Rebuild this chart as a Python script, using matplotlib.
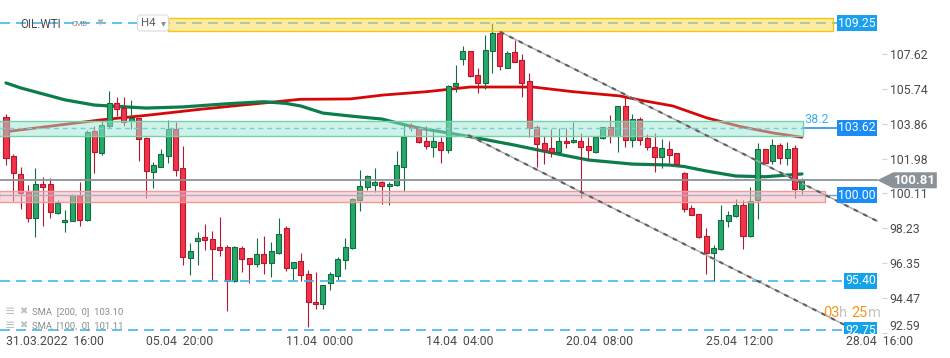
import numpy as np
import matplotlib
matplotlib.use("Agg")
import matplotlib.pyplot as plt
from matplotlib.patches import Rectangle, FancyBboxPatch, Polygon

plt.rcParams['font.family'] = ['Roboto', 'DejaVu Sans']

# OIL.WTI H4 candles, index 0 = 31.03.2022 16:00
opens = [104.22, 102.12, 101.15, 100.18, 98.77, 100.61, 100.61, 99.04, 98.55, 98.64,
         99.97, 98.66, 103.46, 102.30, 103.70, 104.96, 104.68, 103.97, 104.14, 103.09,
         101.27, 101.54, 102.13, 103.57, 101.45, 96.65, 97.57, 97.75, 97.64, 97.21,
         97.21, 95.41, 97.15, 96.62, 96.29, 96.83, 96.38, 96.92, 98.23, 96.08,
         96.47, 95.76, 94.26, 94.15, 95.28, 95.69, 96.51, 97.15, 99.74, 100.44,
         100.55, 100.71, 100.49, 100.55, 101.54, 103.75, 103.61, 102.93, 102.59, 102.87,
         102.44, 105.87, 107.32, 107.75, 106.46, 106.03, 107.73, 108.72, 106.84, 107.69,
         107.27, 106.13, 103.66, 102.80, 102.54, 102.33, 102.91, 102.85, 102.91, 102.65,
         102.32, 103.07, 103.66, 103.17, 104.79, 102.96, 104.09, 103.07, 102.62, 102.04,
         102.51, 102.26, 101.22, 99.31, 98.99, 97.81, 96.89, 97.10, 98.61, 98.88,
         99.47, 97.81, 99.74, 102.48, 101.84, 102.70, 101.99, 102.54, 100.33]
highs = [104.37, 102.23, 101.54, 100.55, 101.47, 101.01, 100.93, 99.76, 99.22, 100.07,
         100.73, 103.52, 103.74, 103.97, 105.63, 105.31, 105.31, 105.13, 104.15, 103.14,
         101.81, 102.48, 104.06, 103.95, 102.66, 97.44, 98.04, 98.47, 98.09, 98.84,
         97.33, 97.27, 97.26, 96.64, 97.70, 97.82, 97.48, 98.77, 98.35, 96.41,
         96.89, 96.00, 95.87, 95.20, 95.87, 96.69, 97.70, 99.84, 101.34, 101.10,
         101.45, 100.78, 100.71, 102.37, 103.88, 103.88, 103.70, 103.70, 103.52, 103.12,
         105.95, 107.02, 108.02, 107.77, 106.86, 108.64, 109.25, 108.79, 107.75, 108.35,
         107.58, 106.56, 103.79, 103.19, 103.55, 103.61, 103.61, 103.95, 103.34, 103.15,
         103.15, 103.68, 104.32, 104.80, 105.33, 104.35, 104.20, 103.29, 103.36, 103.02,
         102.91, 102.28, 101.24, 99.49, 99.00, 98.24, 97.33, 99.47, 99.14, 99.80,
         99.76, 100.44, 102.81, 102.50, 103.02, 102.82, 102.85, 102.71, 100.95]
lows = [101.63, 99.71, 99.25, 98.59, 97.78, 98.37, 98.81, 98.99, 98.05, 98.60,
        98.37, 98.62, 101.18, 102.17, 103.63, 104.28, 103.70, 103.57, 101.87, 99.88,
        100.41, 101.50, 101.76, 101.06, 96.26, 95.72, 96.26, 97.06, 95.41, 96.74,
        93.79, 95.36, 95.90, 95.31, 96.17, 95.78, 95.63, 96.85, 95.96, 95.45,
        95.41, 92.95, 93.92, 93.92, 94.91, 95.47, 96.07, 97.13, 99.18, 100.27,
        100.16, 99.55, 99.50, 100.52, 100.25, 103.48, 102.83, 102.48, 102.08, 101.73,
        102.30, 105.53, 107.02, 106.37, 105.49, 105.73, 106.56, 106.75, 106.82, 107.16,
        105.31, 103.12, 101.54, 101.71, 102.04, 102.29, 102.54, 102.83, 99.88, 101.89,
        102.29, 103.02, 102.80, 102.32, 102.59, 102.59, 102.70, 102.44, 101.27, 101.47,
        101.76, 101.65, 99.13, 98.92, 97.71, 95.78, 95.40, 97.08, 98.28, 98.86,
        97.10, 97.78, 98.72, 101.71, 101.67, 101.67, 101.62, 99.84, 100.06]
closes = [102.02, 101.18, 100.11, 98.77, 100.61, 100.47, 99.09, 99.58, 98.68, 100.00,
          98.66, 103.41, 102.32, 103.79, 104.96, 104.63, 103.92, 104.15, 103.02, 101.32,
          101.63, 102.23, 103.57, 101.37, 96.70, 97.02, 97.70, 97.62, 97.13, 97.08,
          95.41, 97.21, 96.56, 96.29, 96.83, 96.38, 97.00, 97.92, 96.08, 96.40,
          95.71, 94.26, 94.15, 95.18, 95.76, 96.56, 97.21, 99.82, 100.49, 101.03,
          100.71, 100.49, 100.62, 101.62, 103.16, 103.61, 102.87, 102.65, 102.93, 102.41,
          105.89, 106.06, 107.75, 106.40, 106.03, 107.80, 108.72, 106.95, 107.65, 107.19,
          106.06, 103.61, 102.75, 102.43, 102.35, 102.91, 102.80, 102.96, 102.59, 102.43,
          103.12, 103.66, 103.17, 104.79, 102.96, 104.09, 102.96, 102.61, 102.04, 102.53,
          102.15, 101.67, 99.25, 98.94, 97.74, 96.89, 97.15, 98.66, 98.94, 99.47,
          97.81, 99.68, 102.48, 101.73, 102.70, 101.99, 102.48, 100.33, 100.81]

# moving averages (candle index, value)
sma100_idx = [0, 2, 8, 12, 19, 24, 30, 35, 38, 40, 43, 47, 51, 54, 56, 59, 63, 69, 74, 79,
              85, 90, 92, 95, 99, 103, 107, 108]
sma100_val = [106.04, 105.77, 105.13, 104.85, 104.69, 104.75, 104.92, 105.03, 104.94, 104.80,
              104.42, 104.25, 104.10, 103.80, 103.62, 103.42, 103.15, 102.70, 102.29, 101.90,
              101.68, 101.63, 101.55, 101.31, 101.04, 101.00, 101.12, 101.15]
sma200_idx = [0, 12.8, 19.1, 26.3, 30.8, 35.4, 39.9, 46.7, 51.2, 57.1, 63, 71.5, 76.9, 83.3,
              86, 90.5, 95.1, 99.6, 104.1, 108]
sma200_val = [103.42, 104.05, 104.30, 104.62, 104.80, 104.98, 105.16, 105.18, 105.39, 105.57,
              105.82, 105.82, 105.57, 105.34, 105.12, 104.80, 104.16, 103.70, 103.35, 103.12]

# trend channel
chan_up_idx = [67.03, 118.2]
chan_up_val = [108.79, 98.62]
chan_lo_idx = [62.7, 114.25]
chan_lo_val = [103.24, 92.95]

# zones (price from, price to, candle index end)
zone_top = (108.85, 109.51, 22.0, 112.2)
zone_fib = (103.20, 103.98, -0.9, 108.1)
zone_sup = (99.66, 100.23, -0.9, 111.1)

levels = [109.25, 103.62, 100.00, 95.40, 92.75]
last_price = 100.81

ytick_vals = [107.62, 105.74, 103.86, 101.98, 100.11, 98.23, 96.35, 94.47, 92.59]
xtick_idx = [0, 19, 38, 57, 76, 95, 114]
xtick_lbl = ['31.03.2022  16:00', '05.04  20:00', '11.04  00:00', '14.04  04:00',
             '20.04  08:00', '25.04  12:00', '28.04  16:00']

UP_FILL, UP_EDGE = '#25a96b', '#136b40'
DN_FILL, DN_EDGE = '#f3334a', '#b3182c'
BLUE = '#45b6ee'

fig = plt.figure(figsize=(9.5, 3.58), dpi=100)
ax = fig.add_axes([0, 24/358, 882/950, 334/358])
ax.set_xlim(-6/7.37, 876/7.37)
ax.set_ylim(92.553, 110.494)
for s in ax.spines.values():
    s.set_visible(False)

x = np.arange(len(opens))
o = np.array(opens); c = np.array(closes)
h = np.array(highs); l = np.array(lows)
up = c >= o
cols_e = np.where(up, UP_EDGE, DN_EDGE)
cols_f = np.where(up, UP_FILL, DN_FILL)
ax.vlines(x, l, h, colors=cols_e, lw=0.8, zorder=3)
body_lo = np.minimum(o, c)
body_h = np.maximum(np.abs(c - o), 0.06)
ax.bar(x, body_h, bottom=body_lo, width=0.68, color=cols_f, edgecolor=cols_e,
       linewidth=0.8, zorder=3.2)

ax.plot(sma200_idx, sma200_val, color='#d40808', lw=2.0, zorder=2.8, solid_capstyle='round')
ax.plot(sma100_idx, sma100_val, color='#0b7d4a', lw=2.3, zorder=2.8, solid_capstyle='round')

# level lines
xl = ax.get_xlim()[0]
ax.plot([xl, 112.2], [109.25, 109.25], color=BLUE, lw=1.2, dashes=(6, 3.6), zorder=4)
ax.plot([112.2, 117.2], [109.25, 109.25], color=BLUE, lw=1.2, zorder=4)
ax.plot([xl, 108.1], [103.62, 103.62], color=BLUE, lw=1.0, dashes=(3.6, 2.8), zorder=4)
ax.plot([108.1, 117.2], [103.62, 103.62], color='#2a8ff0', lw=1.2, zorder=4)
ax.plot([xl, 117.2], [100.00, 100.00], color='#6c9ee8', lw=1.0, zorder=4)
ax.plot([xl, 117.8], [95.40, 95.40], color=BLUE, lw=1.2, dashes=(6, 3.6), zorder=4)
ax.plot([xl, 117.8], [92.75, 92.75], color=BLUE, lw=1.2, dashes=(6, 3.6), zorder=4)

# zones on top
for (p0, p1, i0, i1), fc, ec in [(zone_top, '#fcd645', '#f2c811'),
                                  (zone_fib, '#9fe6cf', '#74d0b0'),
                                  (zone_sup, '#f7b5b8', '#ee9a9e')]:
    ax.add_patch(Rectangle((i0, p0), i1 - i0, p1 - p0, fc=fc, alpha=0.5, ec='none', zorder=5))
    ax.add_patch(Rectangle((i0, p0), i1 - i0, p1 - p0, fc='none', ec=ec, lw=1.0, zorder=5.1))

ax.text(108.3, 104.09, '38.2', color='#3db2f0', fontsize=9, va='center', ha='left', zorder=6)

# channel
for xs, ys in [(chan_up_idx, chan_up_val), (chan_lo_idx, chan_lo_val)]:
    ax.plot(xs, ys, color='#a9a9a9', lw=1.0, zorder=6, clip_on=False)
    ax.plot(xs, ys, color='#5f5f5f', lw=1.5, dashes=(2.2, 2.8), zorder=6.1, clip_on=False)

# current price line and label
ax.plot([xl, 118.2], [last_price, last_price], color='#8b9398', lw=1.3, zorder=6.5)
arrow = Polygon([[118.2, last_price], [120.4, last_price + 0.43], [126.3, last_price + 0.43],
                 [126.3, last_price - 0.43], [120.4, last_price - 0.43]],
                closed=True, fc='#8b9398', ec='none', zorder=10, clip_on=False)
ax.add_patch(arrow)
ax.text(123.3, last_price, '%.2f' % last_price, color='white', fontsize=9.5, fontweight='bold',
        ha='center', va='center', zorder=11, clip_on=False)

# level labels
for lv, fc in zip(levels, ['#1aa0ee', '#1a8cf5', '#1a8cf5', '#12a3ea', '#12a3ea']):
    ax.text(118.05, lv, '%.2f' % lv, color='white', fontsize=8.8, ha='right', va='center',
            zorder=9, clip_on=True,
            bbox=dict(boxstyle='square,pad=0.12', fc=fc, ec='none'))

# axes ticks
ax.yaxis.tick_right()
ax.set_yticks(ytick_vals)
ax.set_yticklabels(['%.2f' % v for v in ytick_vals])
ax.tick_params(axis='y', length=3.6, width=0.8, color='#d0d0d0', pad=2.0,
               labelsize=8.8, labelcolor='#4a4a4a')
ax.yaxis.get_major_ticks()[-1].label2.set_verticalalignment('bottom')
ax.set_xticks(xtick_idx)
ax.set_xticklabels(xtick_lbl, ha='left')
ax.tick_params(axis='x', length=0, pad=1.0, labelsize=8.8, labelcolor='#4a4a4a')

# overlay in pixel coordinates for header / legend
ov = fig.add_axes([0, 0, 1, 1])
ov.set_xlim(0, 950)
ov.set_ylim(358, 0)
ov.axis('off')
ov.patch.set_alpha(0)

ov.text(20.5, 24, 'OIL.WTI', fontsize=8.4, color='#4a4a4a', va='center', ha='left')
ov.text(71.5, 24.5, 'CMD', fontsize=5.3, color='#8a8a8a', va='center', ha='left')
ov.plot([100], [21.5], marker='v', ms=4.5, color='#b0b0b0', mec='none')
ov.add_patch(FancyBboxPatch((137.5, 15), 31, 16, boxstyle='round,pad=0,rounding_size=3',
                            fc='white', ec='#dcdcdc', lw=0.8, zorder=3))
ov.text(141.5, 23.5, 'H4', fontsize=8.2, color='#5a5a5a', va='center', ha='left', zorder=4)
ov.plot([163.3], [23.5], marker='v', ms=3.5, color='#8a8a8a', mec='none', zorder=4)

for yy, txt in [(311.7, 'SMA  [200,  0]  103.10'), (325.7, 'SMA  [100,  0]  101.11')]:
    ov.text(5, yy, '\u2261', fontsize=9, color='#c0c0c0', va='center', ha='left',
            family=['DejaVu Sans'])
    ov.text(19.5, yy, '\u2716', fontsize=7, color='#c0c0c0', va='center', ha='left',
            family=['DejaVu Sans'])
    ov.text(31.5, yy, txt, fontsize=6.8, color='#8c8c8c', va='center', ha='left')

for xx, txt, col in [(823, '03', '#f7941d'), (838.5, 'h', '#c4c4c4'),
                     (851.5, '25', '#f7941d'), (868, 'm', '#c4c4c4')]:
    ov.text(xx, 313, txt, fontsize=10.5, color=col, va='center', ha='left')

fig.savefig('out.png', dpi=100, facecolor='white')
